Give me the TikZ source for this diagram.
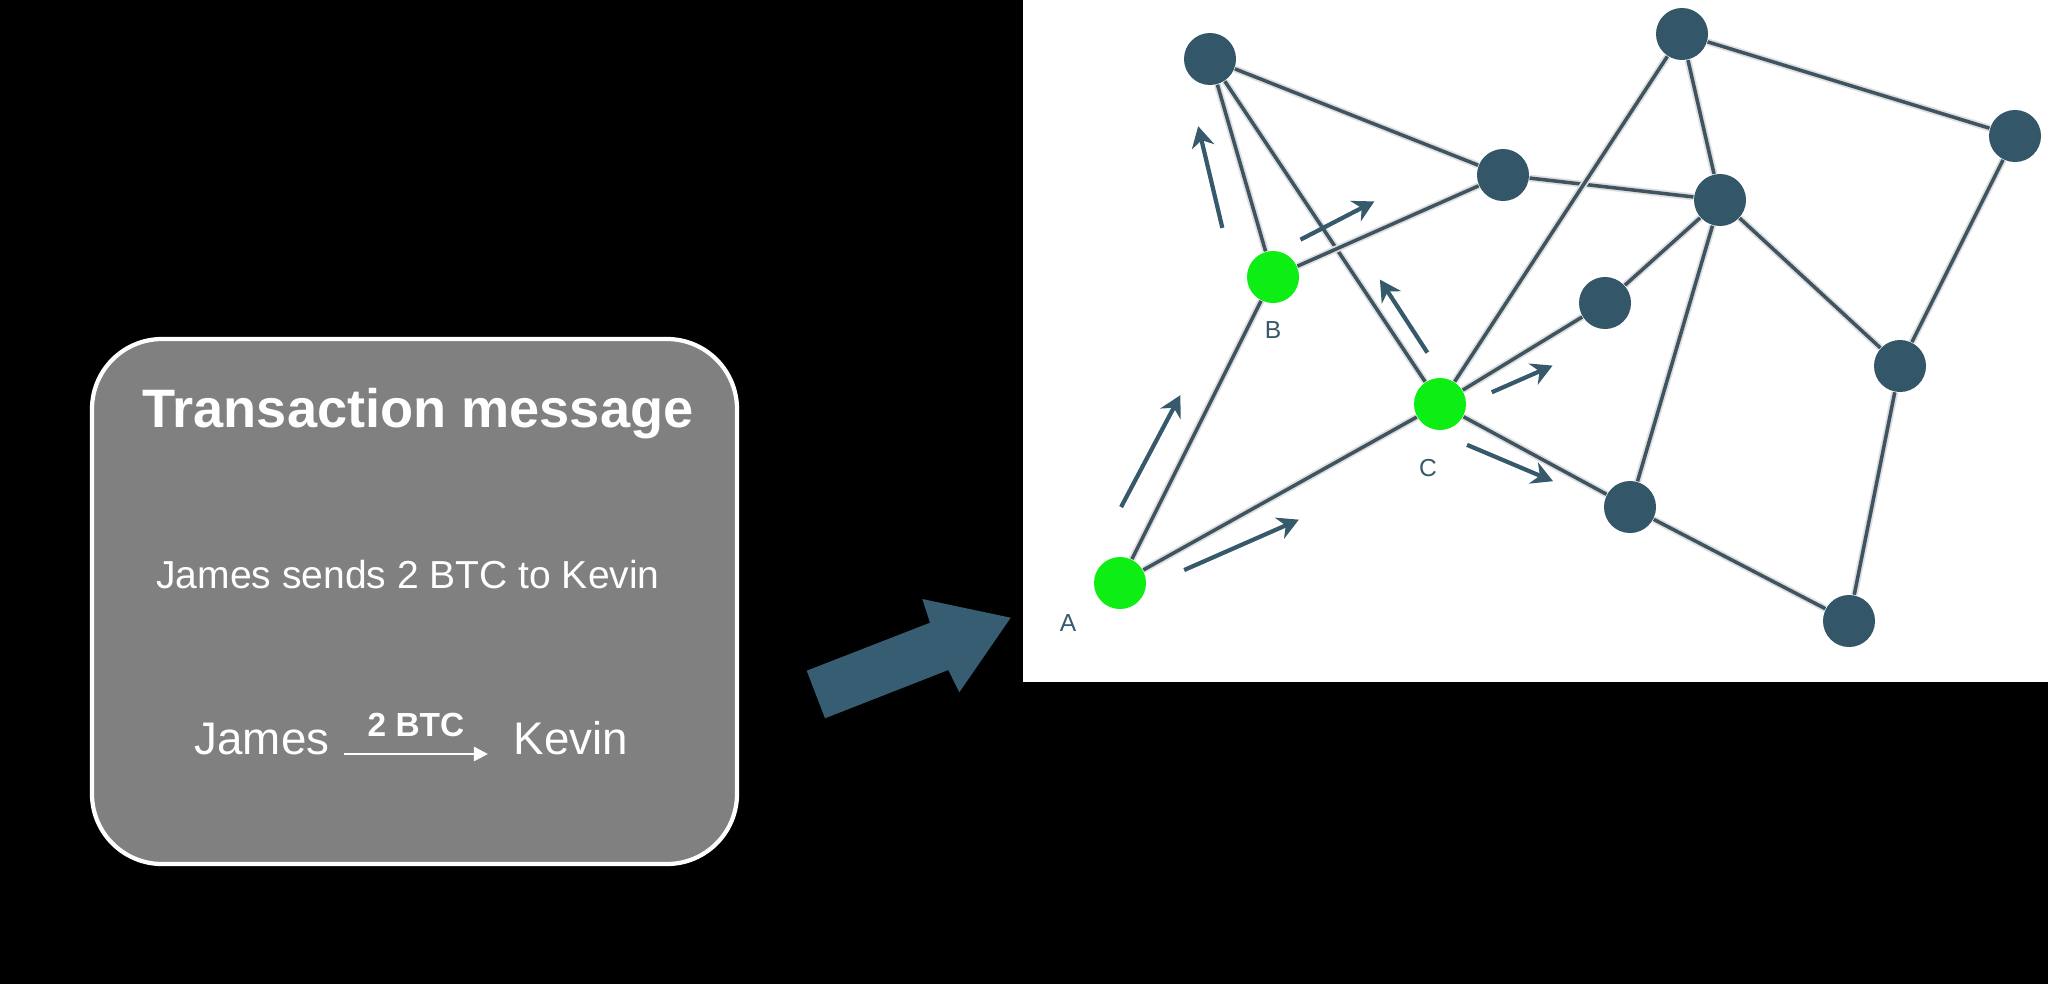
\documentclass[tikz,border=0pt]{standalone}
\usepackage{fontspec}
\setmainfont{Liberation Sans}
\usetikzlibrary{calc,arrows.meta,positioning}

\definecolor{slate}{RGB}{54,89,108}
\definecolor{nodeblue}{RGB}{52,86,105}
\definecolor{bitgreen}{RGB}{12,238,20}
\definecolor{edgecol}{RGB}{62,84,96}
\definecolor{boxgray}{RGB}{128,128,128}
\definecolor{bigarrow}{RGB}{54,93,113}

\tikzset{
  peer/.style={circle, fill=nodeblue, minimum size=0.52cm, inner sep=0pt},
  relay/.style={peer, fill=bitgreen},
  link/.style={draw=edgecol, line width=1pt, preaction={draw=gray!25, line width=2pt}},
  hop/.style={draw=slate, line width=1.2pt, -{Stealth[length=6pt,width=6.5pt]}},
  tag/.style={text=slate, font=\fontsize{7}{8}\selectfont},
  wtext/.style={text=white, inner sep=0pt},
}

\begin{document}
\begin{tikzpicture}[x=0.01cm, y=-0.01cm]
  \useasboundingbox (0,0) rectangle (2048,984);
  \fill[black] (0,0) rectangle (2048,984);
  \fill[white] (1023,0) rectangle (2048,682);

  % message box
  \draw[white, line width=1.2pt, fill=boxgray, rounded corners=0.7cm] (92,339) rectangle (737,864);
  \node[wtext, anchor=base, font=\fontsize{15.4}{18}\selectfont\bfseries] (title) at (418,427) {Transaction message};
  \node[wtext, anchor=base, font=\fontsize{11.1}{13}\selectfont] (sentence) at (408,588) {James sends 2 BTC to Kevin};
  \node[wtext, anchor=base east, font=\fontsize{13}{15}\selectfont] (payer) at (330,754) {James};
  \node[wtext, anchor=base west, font=\fontsize{13}{15}\selectfont] (payee) at (513,754) {Kevin};
  \draw[white, line width=0.7pt, -{Triangle[length=4pt,width=4pt]}]
    ($(payer.base east)+(14,0)$) -- node[wtext, above=0.16cm, font=\fontsize{9.5}{11}\selectfont\bfseries] (amount) {2 BTC}
    ($(payee.base west)+(-25,0)$);

  % broadcast arrow
  \fill[bigarrow] (806.7,670.7) -- (930,622.7) -- (922.3,599) -- (1010.7,617.7)
    -- (959.3,692.3) -- (948.3,670) -- (825,718.3) -- cycle;

  % peers
  \node[peer] (n1) at (1210,59) {};
  \node[peer] (n2) at (1682,34) {};
  \node[peer] (n3) at (2015,136) {};
  \node[peer] (n4) at (1503,175) {};
  \node[peer] (n5) at (1720,200) {};
  \node[relay] (B) at (1273,277) {};
  \node[peer] (n6) at (1605,303) {};
  \node[peer] (n7) at (1900,366) {};
  \node[relay] (C) at (1440,404) {};
  \node[peer] (n8) at (1630,507) {};
  \node[relay] (A) at (1120,583) {};
  \node[peer] (n9) at (1849,621) {};

  \foreach \u/\v in {n1/B, n1/n4, n1/C, n4/B, n4/n5, n2/n5, n2/n3, n2/C, n5/n6,
                     n5/n8, n5/n7, n3/n7, n7/n9, n6/C, C/A, A/B, C/n8, n8/n9}
    \draw[link] (\u) -- (\v);

  \node[tag] at ($(A)+(-52,40)$) {A};
  \node[tag] at ($(B)+(0,53)$) {B};
  \node[tag] at ($(C)+(-12,64)$) {C};

  % propagation
  \draw[hop] ($(A)!.20!(B)!.33cm!90:(B)$) -- ($(A)!.57!(B)!.30cm!90:(B)$);
  \draw[hop] ($(A)!.17!(C)!.20cm!-90:(C)$) -- ($(A)!.51!(C)!.32cm!-90:(C)$);
  \draw[hop] ($(B)!.27!(n1)!.35cm!90:(n1)$) -- ($(B)!.73!(n1)!.30cm!90:(n1)$);
  \draw[hop] ($(B)!.16!(n4)!.23cm!90:(n4)$) -- ($(B)!.49!(n4)!.28cm!90:(n4)$);
  \draw[hop] ($(C)!.12!(n1)!.18cm!-90:(n1)$) -- ($(C)!.33!(n1)!.19cm!-90:(n1)$);
  \draw[hop] ($(C)!.26!(n6)!.17cm!-90:(n6)$) -- ($(C)!.60!(n6)!.26cm!-90:(n6)$);
  \draw[hop] ($(C)!.20!(n8)!.23cm!-90:(n8)$) -- ($(C)!.63!(n8)!.14cm!-90:(n8)$);
\end{tikzpicture}
\end{document}
